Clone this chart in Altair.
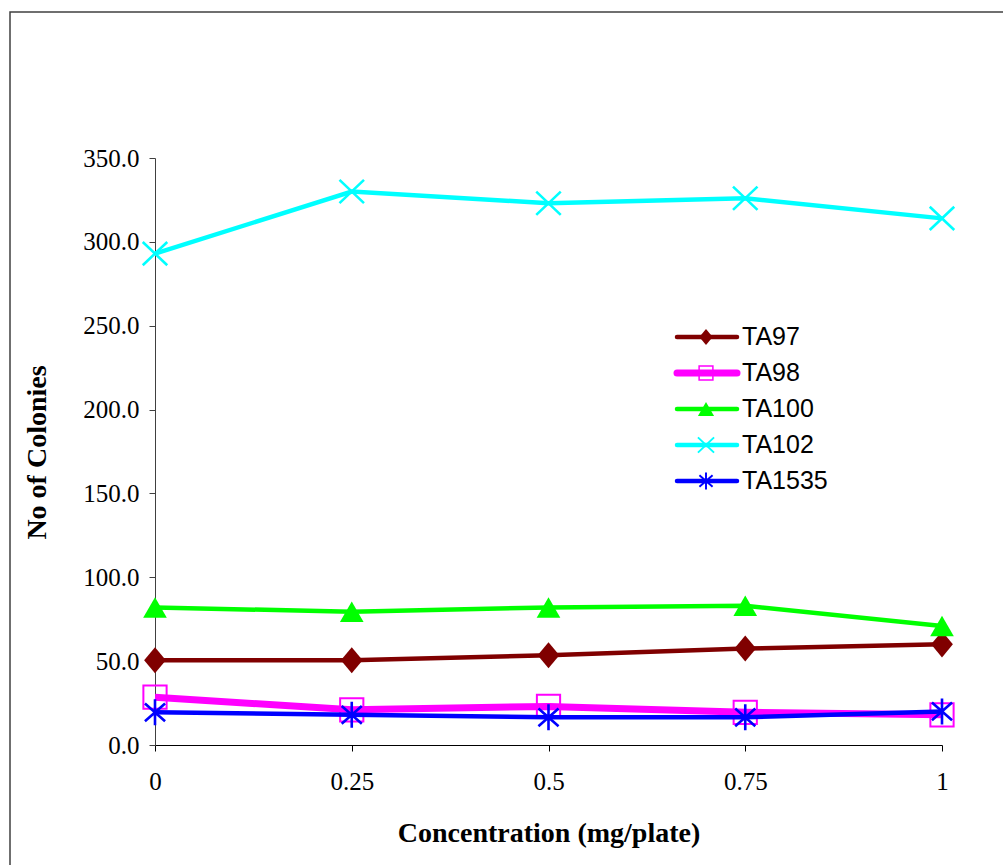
import altair as alt
import pandas as pd

# Concentrations tested (mg/plate)
concentration = [0, 0.25, 0.5, 0.75, 1]

# Mean revertant colonies per strain
ta97 = [50.5, 50.5, 53.5, 57.5, 60.0]
ta98 = [28.5, 21.0, 23.0, 19.5, 18.0]
ta100 = [82.0, 79.5, 82.0, 83.0, 71.0]
ta102 = [293.0, 330.0, 323.0, 326.0, 314.0]
ta1535 = [19.5, 18.0, 16.5, 16.5, 20.0]

strains = ["TA97", "TA98", "TA100", "TA102", "TA1535"]
values = [ta97, ta98, ta100, ta102, ta1535]

x_ticks = [0, 0.25, 0.5, 0.75, 1]
y_ticks = [0, 50, 100, 150, 200, 250, 300, 350]

# Line and marker styling per strain
DIAMOND_PATH = "M0,-1.1L0.92,0L0,1.1L-0.92,0Z"
X_PATH = "M-1,-0.95L1,0.95M-1,0.95L1,-0.95"
STAR_PATH = "M-0.85,-0.75L0.85,0.75M-0.85,0.75L0.85,-0.75M0,-1.1L0,1.1"
style = {
    "TA97": dict(color="#800000", width=4.5, lw=4.5, shape=DIAMOND_PATH, filled=True,
                 size=560, lsize=210, mw=1),
    "TA98": dict(color="#FF00FF", width=7, lw=7, shape="square", filled=False,
                 size=540, lsize=190, mw=2),
    "TA100": dict(color="#00FF00", width=4.5, lw=4.5, shape="triangle-up", filled=True,
                  size=560, lsize=260, mw=1),
    "TA102": dict(color="#00FFFF", width=4.5, lw=4.5, shape=X_PATH, filled=False,
                  size=600, lsize=260, mw=2.6),
    "TA1535": dict(color="#0000FF", width=4.5, lw=4.5, shape=STAR_PATH, filled=False,
                   size=560, lsize=240, mw=2.6),
}

rows = []
for name, vals in zip(strains, values):
    for c, v in zip(concentration, vals):
        rows.append({"strain": name, "conc": c, "colonies": v})
df = pd.DataFrame(rows)
legend_df = pd.DataFrame({"strain": strains})

W, H = 787, 587
SERIF = "Liberation Serif"
SANS = "Liberation Sans"

x_enc = alt.X(
    "conc:Q",
    scale=alt.Scale(domain=[0, 1], nice=False, zero=False),
    axis=alt.Axis(
        values=x_ticks, title="Concentration (mg/plate)", grid=False, labelFlush=False,
        labelExpr="datum.value == 0 ? '0' : datum.value == 1 ? '1' : format(datum.value, '')",
        labelFont=SERIF, labelFontSize=25, labelColor="#000", labelPadding=18,
        titleFont=SERIF, titleFontSize=28, titleFontWeight="bold", titleColor="#000",
        titleX=W / 2, titleY=88, titleBaseline="middle",
        domainColor="#000", tickColor="#000", tickSize=6,
    ),
)
y_enc = alt.Y(
    "colonies:Q",
    scale=alt.Scale(domain=[0, 350], nice=False),
    axis=alt.Axis(
        values=y_ticks, format=".1f", title="No of Colonies", grid=False, labelFlush=False,
        labelFont=SERIF, labelFontSize=25, labelColor="#000", labelPadding=10,
        titleFont=SERIF, titleFontSize=28, titleFontWeight="bold", titleColor="#000",
        titleX=-118, titleY=294, titleBaseline="middle",
        domainColor="#404040", tickColor="#404040", tickSize=6,
    ),
)

# Outer frame around the whole figure
frame = alt.Chart(pd.DataFrame({"k": [0]})).mark_rect(
    fill=None, stroke="#404040", strokeWidth=1.5
).encode(x=alt.value(-145), x2=alt.value(W + 70), y=alt.value(-146), y2=alt.value(H + 140))

series_layers = []
for name in strains:
    s = style[name]
    base = alt.Chart(df).transform_filter(alt.datum.strain == name)
    line = base.mark_line(color=s["color"], strokeWidth=s["width"]).encode(x=x_enc, y=y_enc)
    pt_kwargs = dict(shape=s["shape"], size=s["size"], opacity=1)
    if s["filled"]:
        pt = base.mark_point(filled=True, color=s["color"], **pt_kwargs)
    else:
        pt = base.mark_point(filled=False, color=s["color"], strokeWidth=s["mw"], **pt_kwargs)
    series_layers += [line, pt.encode(x=x_enc, y=y_enc)]

main = alt.layer(frame, *series_layers)

# Legend drawn as line + marker + label for each strain
ly = alt.Y(
    "strain:N",
    scale=alt.Scale(type="point", domain=strains, range=[179, 323], padding=0),
    axis=None,
)
legend_layers = []
for name in strains:
    s = style[name]
    base = alt.Chart(legend_df).transform_filter(alt.datum.strain == name)
    rule = base.mark_rule(color=s["color"], strokeWidth=s["lw"], strokeCap="round").encode(
        x=alt.value(522), x2=alt.value(582), y=ly
    )
    if s["filled"]:
        pt = base.mark_point(filled=True, color=s["color"], shape=s["shape"], size=s["lsize"], opacity=1)
    else:
        pt = base.mark_point(filled=False, color=s["color"], shape=s["shape"], size=s["lsize"],
                             strokeWidth=s["mw"] * 0.75, opacity=1)
    legend_layers += [rule, pt.encode(x=alt.value(551), y=ly)]
legend_text = alt.Chart(legend_df).mark_text(
    align="left", baseline="middle", font=SANS, fontSize=25, color="#000"
).encode(x=alt.value(587), y=ly, text="strain:N")
legend = alt.layer(*legend_layers, legend_text)

chart = (
    alt.layer(main, legend)
    .resolve_scale(y="independent")
    .properties(
        width=W, height=H,
        autosize=alt.AutoSizeParams(type="none"),
        padding={"left": 155, "top": 158, "right": 61, "bottom": 120},
        background="white",
    )
    .configure_view(stroke=None)
)

chart.save("out.html", embed_options={"renderer": "svg", "actions": False})
